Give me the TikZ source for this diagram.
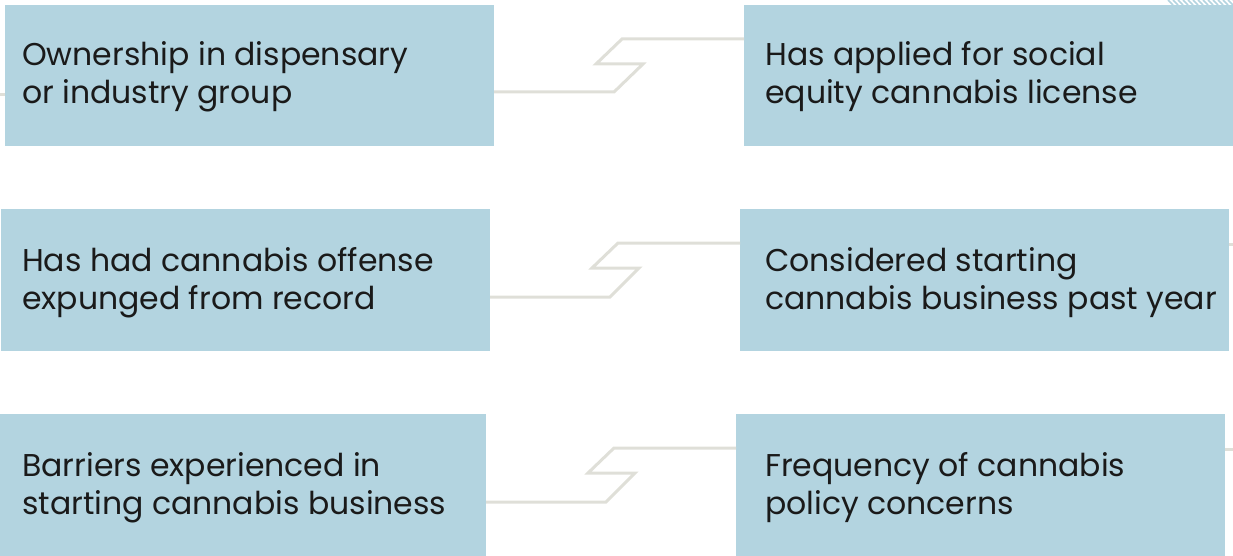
\documentclass[tikz,border=0pt]{standalone}
\usepackage{fontspec}
\setmainfont{Poppins}
\definecolor{boxc}{HTML}{B3D4E0}
\definecolor{linec}{HTML}{DFDFD8}
\definecolor{txtc}{HTML}{1A1A1A}
\begin{document}
\begin{tikzpicture}[x=1pt,y=-1pt,
  boxs/.style={fill=boxc, draw=none},
  txt/.style={anchor=base west, align=left, inner sep=0pt, font=\fontsize{31.5}{38}\selectfont, text=txtc},
  conn/.style={draw=linec, line width=3pt, line join=miter}]
\useasboundingbox (0,0) rectangle (1233,556);
% stubs
\draw[conn] (0,95) -- (6,95);
\draw[conn] (1228,244) -- (1233,244);
\draw[conn] (1224,449) -- (1233,449);
% hatched corner
\begin{scope}
\clip (1160,0) rectangle (1233,5);
\foreach \i in {0,...,14} {
  \draw[boxc, line width=1.5pt] (1168+\i*5,0) -- (1173+\i*5,5);
}
\end{scope}
% boxes
\fill[boxs] (5,5) rectangle (494,146);
\fill[boxs] (744,5) rectangle (1233,146);
\fill[boxs] (1,209) rectangle (490,351);
\fill[boxs] (740,209) rectangle (1229,351);
\fill[boxs] (0,414) rectangle (486,556);
\fill[boxs] (736,414) rectangle (1225,556);
% coordinates
\coordinate (l1) at (494,92); \coordinate (r1) at (744,39);
\coordinate (l2) at (490,297); \coordinate (r2) at (740,243);
\coordinate (l3) at (486,502); \coordinate (r3) at (736,448);
% connectors
\draw[conn] (l1) -- (614,92) -- (643,64) -- (596,64) -- (622,39) -- (r1);
\draw[conn] (l2) -- (610,297) -- (639,268) -- (592,268) -- (618,243) -- (r2);
\draw[conn] (l3) -- (606,502) -- (635,473) -- (588,473) -- (614,448) -- (r3);
% texts (anchor = baseline of the last line)
\node[txt] (t1) at (22,104) {Ownership in dispensary\\or industry group};
\node[txt] (t2) at (765,104) {Has applied for social\\equity cannabis license};
\node[txt] (t3) at (22,309) {Has had cannabis offense\\expunged from record};
\node[txt] (t4) at (765,309) {Considered starting\\cannabis business past year};
\node[txt] (t5) at (22,514) {Barriers experienced in\\starting cannabis business};
\node[txt] (t6) at (765,514) {Frequency of cannabis\\policy concerns};
\end{tikzpicture}
\end{document}
